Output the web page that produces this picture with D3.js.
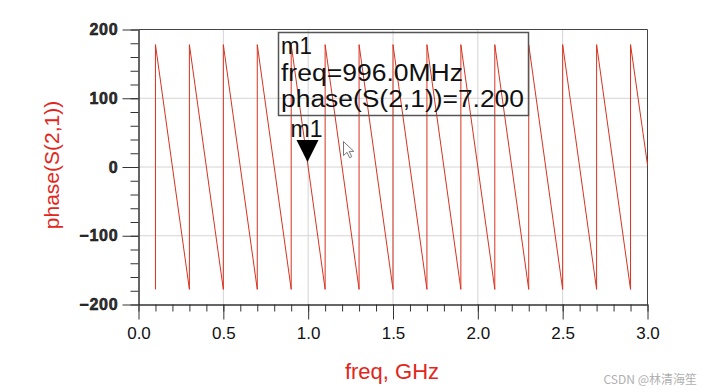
<!DOCTYPE html>
<html>
<head>
<meta charset="utf-8">
<script src="https://cdn.jsdelivr.net/npm/d3@7"></script>
<style>
  body { margin: 0; background: #fff; }
  svg { display: block; font-family: "Liberation Sans", Arial, sans-serif; }
</style>
</head>
<body>
<svg id="chart" width="708" height="392"></svg>
<script>
// sawtooth vertices (freq in GHz, phase in degrees)
const freqGHz = [0.1, 0.1, 0.3, 0.3, 0.5, 0.5, 0.7, 0.7, 0.9, 0.9, 1.1, 1.1, 1.3, 1.3, 1.5, 1.5,
  1.7, 1.7, 1.9, 1.9, 2.1, 2.1, 2.3, 2.3, 2.5, 2.5, 2.7, 2.7, 2.9, 2.9, 3.0]
const phaseDeg = [-178, 178, -178, 178, -178, 178, -178, 178, -178, 178, -178, 178, -178, 178, -178, 178,
  -178, 178, -178, 178, -178, 178, -178, 178, -178, 178, -178, 178, -178, 178, 3]

const xTicks = [0.0, 0.5, 1.0, 1.5, 2.0, 2.5, 3.0]
const yTicks = [-200, -100, 0, 100, 200]

// marker m1
const markerName = 'm1'
const markerFreq = 0.996
const markerPhase = 7.2
const markerLines = ['m1', 'freq=996.0MHz', 'phase(S(2,1))=7.200']

const svg = d3.select('#chart')

const x = d3.scaleLinear().domain([0, 3]).range([138.5, 647.5])
const y = d3.scaleLinear().domain([-200, 200]).range([304.5, 29.5])

// grid
svg.append('g')
  .selectAll('line')
  .data(yTicks.filter(d => d > -200 && d < 200))
  .join('line')
    .attr('x1', x(0)).attr('x2', x(3))
    .attr('y1', d => y(d)).attr('y2', d => y(d))
    .attr('stroke', '#d4d4d4')
svg.append('g')
  .selectAll('line')
  .data(xTicks.filter(d => d > 0 && d < 3))
  .join('line')
    .attr('x1', d => x(d)).attr('x2', d => x(d))
    .attr('y1', y(200)).attr('y2', y(-200))
    .attr('stroke', '#d4d4d4')

// frame top and right
svg.append('path')
  .attr('d', `M${x(0)},${y(200)}H${x(3)}V${y(-200)}`)
  .attr('fill', 'none')
  .attr('stroke', '#444')

// minor ticks
svg.append('g')
  .attr('transform', `translate(${x(0)},0)`)
  .call(d3.axisLeft(y).tickValues(d3.range(-200, 201, 20)).tickSize(8).tickSizeOuter(0).tickFormat(''))
svg.append('g')
  .attr('transform', `translate(0,${y(-200)})`)
  .call(d3.axisBottom(x).tickValues(d3.range(0, 31).map(i => i / 10)).tickSize(7).tickSizeOuter(0).tickFormat(''))

// major ticks + labels
const yAxis = svg.append('g')
  .attr('transform', `translate(${x(0)},0)`)
  .call(d3.axisLeft(y).tickValues(yTicks).tickSize(16).tickSizeOuter(0).tickPadding(4))
yAxis.selectAll('text')
  .attr('font-size', 16)
  .attr('font-weight', 'bold')
  .attr('fill', '#333')
  .attr('stroke', '#000')
  .attr('stroke-width', 0.5)
  .attr('letter-spacing', 0.8)
  .attr('font-family', '"Liberation Sans", Arial, sans-serif')

const xAxis = svg.append('g')
  .attr('transform', `translate(0,${y(-200)})`)
  .call(d3.axisBottom(x).tickValues(xTicks).tickSize(15).tickSizeOuter(0).tickPadding(7).tickFormat(d3.format('.1f')))
xAxis.selectAll('text')
  .attr('font-size', 17)
  .attr('fill', '#111')
  .attr('font-family', '"Liberation Sans", Arial, sans-serif')

svg.selectAll('.domain, .tick line').attr('stroke', '#333')

// trace
const line = d3.line()
  .x((d, i) => x(freqGHz[i]))
  .y(d => y(d))
svg.append('path')
  .datum(phaseDeg)
  .attr('d', line)
  .attr('fill', 'none')
  .attr('stroke', '#d9321f')
  .attr('stroke-width', 1)

// axis titles
svg.append('text')
  .attr('transform', 'translate(59,165) rotate(-90)')
  .attr('text-anchor', 'middle')
  .attr('font-size', 21)
  .attr('fill', '#e3261b')
  .text('phase(S(2,1))')
svg.append('text')
  .attr('x', 392)
  .attr('y', 379)
  .attr('text-anchor', 'middle')
  .attr('font-size', 22)
  .attr('fill', '#e3261b')
  .text('freq, GHz')

// marker readout box
svg.append('rect')
  .attr('x', 278.5).attr('y', 32.5)
  .attr('width', 250).attr('height', 83)
  .attr('fill', 'none')
  .attr('stroke', '#555')
  .attr('stroke-width', 1.5)
const lineWidths = [31, 182, 243]
svg.append('g')
  .selectAll('text')
  .data(markerLines)
  .join('text')
    .attr('x', 281)
    .attr('y', (d, i) => 54 + i * 26.5)
    .attr('font-size', 23.5)
    .attr('textLength', (d, i) => lineWidths[i])
    .attr('lengthAdjust', 'spacingAndGlyphs')
    .attr('fill', '#111')
    .text(d => d)

// marker triangle
const mx = x(markerFreq), my = y(markerPhase)
svg.append('path')
  .attr('d', `M${mx},${my}L${mx - 11},${my - 22}L${mx + 11},${my - 22}Z`)
  .attr('fill', '#000')
svg.append('text')
  .attr('x', mx - 1)
  .attr('y', my - 25)
  .attr('text-anchor', 'middle')
  .attr('font-size', 23)
  .attr('fill', '#111')
  .text(markerName)

// mouse pointer from the screenshot
svg.append('path')
  .attr('d', 'M343.5,141.5v14l3.5,-3.2l2.6,5.4l2.2,-1l-2.6,-5.3h4.6z')
  .attr('fill', '#fff')
  .attr('stroke', '#777')
  .attr('stroke-width', 1)

// watermark
svg.append('text')
  .attr('x', 697)
  .attr('y', 384)
  .attr('text-anchor', 'end')
  .attr('font-size', 12)
  .attr('fill', '#b0b0b0')
  .attr('font-family', '"Noto Sans CJK SC", "Noto Sans", sans-serif')
  .text('CSDN @林清海笙')
</script>
</body>
</html>
